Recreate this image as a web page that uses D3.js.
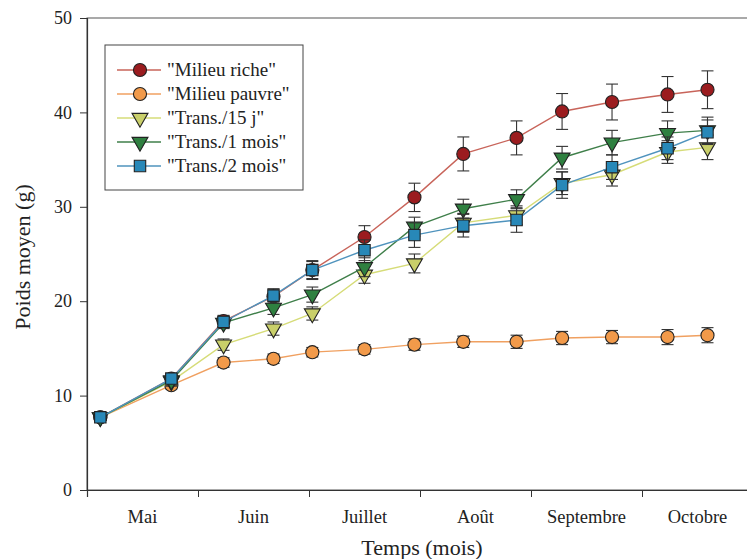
<!DOCTYPE html>
<html>
<head>
<meta charset="utf-8">
<script src="https://cdn.jsdelivr.net/npm/d3@7"></script>
<style>
  html, body { margin: 0; padding: 0; background: #fff; }
  svg { display: block; font-family: "Liberation Serif", "Times New Roman", serif; }
</style>
</head>
<body>
<div id="chart"></div>
<script>
// Poids moyen par traitement, mai -> octobre, avec barres d'erreur

const months = ["Mai", "Juin", "Juillet", "Août", "Septembre", "Octobre"];
const yTicks = [0, 10, 20, 30, 40, 50];

// sampling dates, in months since 1 May
const sampleTimes = [0.12, 0.76, 1.23, 1.68, 2.03, 2.5, 2.95, 3.39, 3.87, 4.28, 4.73, 5.23, 5.59];

const seriesNames = ['"Milieu riche"', '"Milieu pauvre"', '"Trans./15 j"', '"Trans./1 mois"', '"Trans./2 mois"'];

const milieuRiche = [7.7, 11.8, 17.9, 20.5, 23.3, 26.8, 31.0, 35.6, 37.3, 40.1, 41.1, 41.9, 42.4];
const milieuPauvre = [7.7, 11.1, 13.5, 13.9, 14.6, 14.9, 15.4, 15.7, 15.7, 16.1, 16.2, 16.2, 16.4];
const trans15j = [7.7, 11.5, 15.4, 17.1, 18.7, 22.8, 24.0, 28.3, 29.1, 32.5, 33.4, 35.8, 36.3];
const trans1mois = [7.7, 11.6, 17.7, 19.3, 20.7, 23.6, 27.9, 29.8, 30.8, 35.2, 36.8, 37.8, 38.1];
const trans2mois = [7.7, 11.8, 17.8, 20.6, 23.3, 25.4, 27.0, 28.0, 28.6, 32.3, 34.2, 36.2, 37.9];

const errRiche = [0.3, 0.5, 0.6, 0.8, 1.0, 1.2, 1.5, 1.8, 1.8, 1.9, 1.9, 1.9, 2.0];
const errPauvre = [0.3, 0.4, 0.5, 0.5, 0.5, 0.5, 0.6, 0.6, 0.7, 0.7, 0.7, 0.8, 0.8];
const err15j = [0.3, 0.5, 0.6, 0.7, 0.7, 0.9, 1.0, 1.0, 1.0, 1.2, 1.2, 1.2, 1.3];
const err1mois = [0.3, 0.5, 0.6, 0.7, 0.8, 1.0, 1.0, 1.0, 1.0, 1.2, 1.3, 1.3, 1.4];
const err2mois = [0.3, 0.5, 0.6, 0.7, 0.9, 1.1, 1.3, 1.2, 1.3, 1.4, 1.3, 1.2, 1.3];

const series = [
  { name: seriesNames[0], values: milieuRiche, err: errRiche, line: "#c8645a", fill: "#9b1c1f", shape: "circle" },
  { name: seriesNames[1], values: milieuPauvre, err: errPauvre, line: "#f0a060", fill: "#f29a4a", shape: "circle" },
  { name: seriesNames[2], values: trans15j, err: err15j, line: "#d6dc78", fill: "#c9cf6a", shape: "tri" },
  { name: seriesNames[3], values: trans1mois, err: err1mois, line: "#3f7f4a", fill: "#2f8040", shape: "tri" },
  { name: seriesNames[4], values: trans2mois, err: err2mois, line: "#4f93bd", fill: "#2888b8", shape: "square" }
];

const W = 747, H = 559;
const margin = { top: 18, right: 0, bottom: 69, left: 87 };

const x = d3.scaleLinear().domain([0, 6]).range([margin.left, margin.left + 666]);
const y = d3.scaleLinear().domain([0, 50]).range([H - margin.bottom, margin.top]);

const svg = d3.select("#chart").append("svg").attr("width", W).attr("height", H);

// frame (top and right)
svg.append("rect")
  .attr("x", x(0)).attr("y", y(50))
  .attr("width", x(6) - x(0)).attr("height", y(0) - y(50))
  .attr("fill", "none").attr("stroke", "#555").attr("stroke-width", 1);

// y axis
svg.append("g")
  .attr("transform", `translate(${x(0)},0)`)
  .call(d3.axisLeft(y).tickValues(yTicks).tickSize(7).tickPadding(8))
  .call(g => g.select(".domain").attr("stroke", "#333").attr("stroke-width", 1.2))
  .call(g => g.selectAll(".tick line").attr("stroke", "#333"))
  .call(g => g.selectAll(".tick text").attr("fill", "#222").attr("font-size", 18)
    .attr("font-family", "Liberation Serif, serif"));

// x axis: ticks at month boundaries, labels centred in the month
svg.append("g")
  .attr("transform", `translate(0,${y(0)})`)
  .call(d3.axisBottom(x).tickValues(d3.range(0, 7)).tickSize(7).tickFormat(""))
  .call(g => g.select(".domain").attr("stroke", "#333").attr("stroke-width", 1.2))
  .call(g => g.selectAll(".tick line").attr("stroke", "#333"));

svg.append("g")
  .selectAll("text")
  .data(months)
  .join("text")
  .attr("x", (d, i) => x(i + 0.5))
  .attr("y", y(0) + 33)
  .attr("text-anchor", "middle")
  .attr("font-size", 18.5)
  .attr("fill", "#222")
  .text(d => d);

// axis titles
svg.append("text")
  .attr("x", x(3) + 2)
  .attr("y", H - 4)
  .attr("text-anchor", "middle")
  .attr("font-size", 22)
  .attr("fill", "#222")
  .text("Temps (mois)");

svg.append("text")
  .attr("transform", `translate(30,${y(25) + 3}) rotate(-90)`)
  .attr("text-anchor", "middle")
  .attr("font-size", 22)
  .attr("fill", "#222")
  .text("Poids moyen (g)");

// symbols
const symbolFor = (shape) => {
  if (shape === "circle") return d3.symbol(d3.symbolCircle).size(135)();
  if (shape === "square") return d3.symbol(d3.symbolSquare).size(130)();
  return d3.symbol(d3.symbolTriangle).size(110)();
};
const rotFor = (shape) => (shape === "tri" ? " rotate(180)" : "");

const line = d3.line().x((d, i) => x(sampleTimes[i])).y(d => y(d));

const plot = svg.append("g");

for (const s of series) {
  const g = plot.append("g");
  g.append("path")
    .attr("d", line(s.values))
    .attr("fill", "none")
    .attr("stroke", s.line)
    .attr("stroke-width", 1.4);

  // error bars
  const eb = g.append("g").attr("stroke", "#333").attr("stroke-width", 1.1);
  s.values.forEach((v, i) => {
    const cx = x(sampleTimes[i]);
    const lo = y(v - s.err[i]), hi = y(v + s.err[i]);
    eb.append("line").attr("x1", cx).attr("x2", cx).attr("y1", lo).attr("y2", hi);
    eb.append("line").attr("x1", cx - 6).attr("x2", cx + 6).attr("y1", lo).attr("y2", lo);
    eb.append("line").attr("x1", cx - 6).attr("x2", cx + 6).attr("y1", hi).attr("y2", hi);
  });

  g.selectAll("path.mark")
    .data(s.values)
    .join("path")
    .attr("class", "mark")
    .attr("d", symbolFor(s.shape))
    .attr("transform", (d, i) => `translate(${x(sampleTimes[i])},${y(d)})${rotFor(s.shape)}`)
    .attr("fill", s.fill)
    .attr("stroke", "#222")
    .attr("stroke-width", 1.1);
}

// legend
const leg = svg.append("g").attr("transform", "translate(105,45)");
leg.append("rect")
  .attr("width", 198).attr("height", 145)
  .attr("fill", "#fff").attr("stroke", "#444").attr("stroke-width", 1);

const rows = leg.selectAll("g.row")
  .data(series)
  .join("g")
  .attr("class", "row")
  .attr("transform", (d, i) => `translate(0,${25 + i * 24})`);

rows.append("line")
  .attr("x1", 12).attr("x2", 56)
  .attr("stroke", d => d.line).attr("stroke-width", 1.4);
rows.append("path")
  .attr("d", d => symbolFor(d.shape))
  .attr("transform", d => `translate(35,0)${rotFor(d.shape)}`)
  .attr("fill", d => d.fill)
  .attr("stroke", "#222")
  .attr("stroke-width", 1.1);
rows.append("text")
  .attr("x", 62)
  .attr("y", 6)
  .attr("font-size", 19)
  .attr("fill", "#222")
  .text(d => d.name);
</script>
</body>
</html>
